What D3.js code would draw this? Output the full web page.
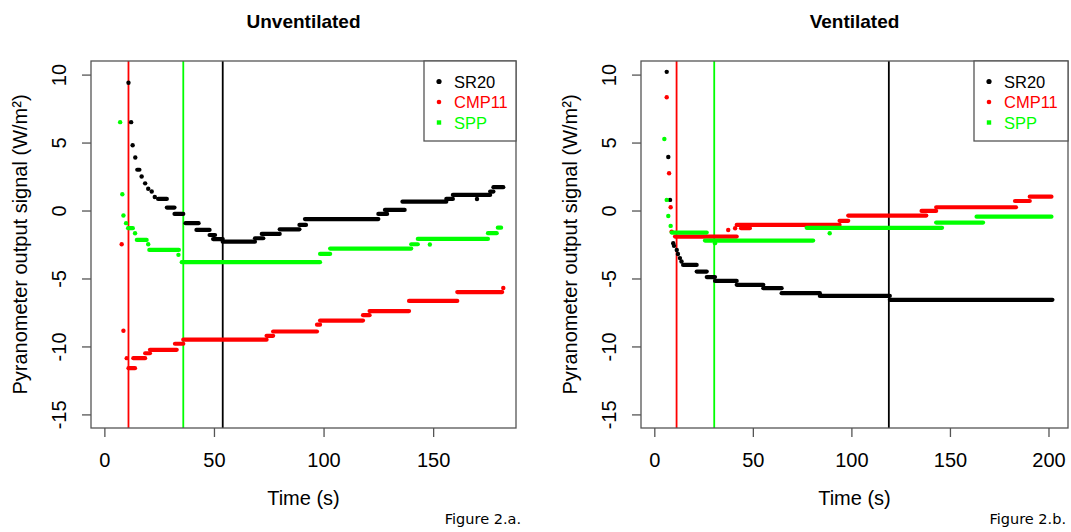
<!DOCTYPE html>
<html><head><meta charset="utf-8">
<script src="https://cdn.jsdelivr.net/npm/d3@7"></script>
<style>
html,body{margin:0;padding:0;background:#fff;}
svg{display:block;}
text{font-family:"Liberation Sans",Arial,Helvetica,sans-serif;}
</style>
</head><body>
<svg id="chart" width="1071" height="532"></svg>
<script>
// ---------- DATA (runs: [t_start, t_end, value]; single points have t_start == t_end) ----------
const seriesNames = ["SR20", "CMP11", "SPP"];
const seriesColors = ["#000000", "#FF0000", "#00FF00"];
const panelTitles = ["Unventilated", "Ventilated"];
const figureCaptions = ["Figure 2.a.", "Figure 2.b."];
const xTicksUnvent = [0, 50, 100, 150];
const xTicksVent = [0, 50, 100, 150, 200];
const yTicks = [-15, -10, -5, 0, 5, 10];

// Unventilated
const sr20Unvent = [[11,11,9.4],[12.2,12.2,6.5],[12.9,12.9,4.8],[14.1,14.1,3.9],[15,16,3.0],[17,17,2.5],[18.6,18.6,2.0],[20,20,1.6],[21.6,21.6,1.4],[23,23,1.0],[24.5,28.5,0.85],[28.5,32,0.22],[32,36,-0.25],[37,43,-0.93],[42,48,-1.43],[48,50.5,-1.8],[49.6,54,-2.1],[54,68.7,-2.29],[68.7,72.5,-2.04],[71.8,80,-1.72],[80,89,-1.38],[89,92,-1.06],[91.5,125,-0.63],[125,129,-0.25],[128,137,0.04],[136,156,0.65],[156,159,0.85],[159,176,1.15],[170,170,0.85],[176,177.5,1.39],[177.5,182,1.72]];
const cmp11Unvent = [[7.9,7.9,-2.48],[8.7,8.7,-8.85],[10.2,10.2,-10.86],[11,14,-11.6],[13.2,18.6,-10.86],[18.6,20.8,-10.5],[20.8,33,-10.25],[32.2,36,-9.8],[36,74,-9.5],[74,77,-9.22],[77,97,-8.9],[97,98.4,-8.4],[98.4,118,-8.1],[118,121,-7.7],[121,139,-7.4],[139,161,-6.65],[161,181.5,-6.0],[182,182,-5.7]];
const sppUnvent = [[7.2,7.2,6.5],[8.2,8.2,1.2],[8.7,8.7,-0.37],[9.9,9.9,-0.93],[10.8,13,-1.3],[14,14,-1.67],[14.8,19.3,-2.16],[20,20,-2.48],[20.5,34,-2.9],[33.8,33.8,-3.26],[35.3,98.4,-3.8],[98.4,103,-3.19],[103,140,-2.8],[140,143,-2.48],[143,175,-2.09],[148.5,148.5,-2.5],[175,179,-1.67],[179.5,181,-1.26]];
const vlinesUnvent = [11, 36, 54];   // CMP11 (red), SPP (green), SR20 (black)

// Ventilated
const sr20Vent = [[6.3,6.3,10.2],[7.1,7.1,3.94],[8,8,0.78],[9.6,9.6,-2.4],[10,10,-2.6],[11.4,11.4,-2.9],[12,12,-3.2],[13,13,-3.5],[13.8,13.8,-3.75],[14.6,21.5,-4.0],[21.5,26.6,-4.49],[26.6,30.8,-4.9],[30.8,41.8,-5.18],[41.8,55.3,-5.47],[55.3,64.6,-5.71],[64.6,84,-6.08],[84,119.5,-6.28],[119.5,202,-6.57]];
const cmp11Vent = [[6.3,6.3,8.33],[7.5,7.5,2.74],[8.3,8.3,0.24],[8.8,8.8,-1.55],[10.5,41.8,-1.92],[37.5,37.5,-1.43],[41,41,-1.3],[44,48.5,-1.3],[41.8,94,-1.06],[94,98.4,-0.76],[98.4,138,-0.37],[135.6,143,-0.03],[143,183.5,0.24],[183,190.5,0.7],[190.5,201.5,1.02]];
const sppVent = [[5.1,5.1,5.26],[6.3,6.3,0.78],[7.1,7.1,-0.4],[8.3,8.3,-1.13],[8.8,26.6,-1.62],[25.7,80.6,-2.21],[30.8,30.8,-2.4],[77.3,146,-1.27],[89,89,-1.67],[143,166.8,-0.89],[163.5,201.5,-0.45]];
const vlinesVent = [11.3, 30.4, 119];

// ---------- LAYOUT ----------
const svg = d3.select("#chart");
const fontMain = 20;
const boxStroke = "#555";
const fmt = d => String(d);   // plain hyphen-minus like the original

const panels = [
  {x0: 91, x1: 516, xDomain: [-6.1, 187.8], xTicks: xTicksUnvent,
   series: [sr20Unvent, cmp11Unvent, sppUnvent], vlines: vlinesUnvent,
   title: panelTitles[0], caption: figureCaptions[0], legendW: 92, capRight: 521},
  {x0: 641, x1: 1068, xDomain: [-6.75, 209.9], xTicks: xTicksVent,
   series: [sr20Vent, cmp11Vent, sppVent], vlines: vlinesVent,
   title: panelTitles[1], caption: figureCaptions[1], legendW: 94, capRight: 1066}
];
const yTop = 61, yBot = 428;

panels.forEach(p => {
  const x = d3.scaleLinear().domain(p.xDomain).range([p.x0, p.x1]);
  const y = d3.scaleLinear().domain([-16, 11]).range([yBot, yTop]);
  const g = svg.append("g");
  const cx = (p.x0 + p.x1) / 2;

  // vertical reference lines: red (CMP11), green (SPP), black (SR20)
  const vColors = [seriesColors[1], seriesColors[2], seriesColors[0]];
  g.selectAll(".vl").data(p.vlines).join("line")
    .attr("x1", d => x(d)).attr("x2", d => x(d))
    .attr("y1", yTop).attr("y2", yBot)
    .attr("stroke", (d, i) => vColors[i]).attr("stroke-width", 1.8);

  // data points (runs of identical readings)
  p.series.forEach((s, si) => {
    const col = seriesColors[si];
    const sg = g.append("g");
    sg.selectAll("line").data(s.filter(d => d[0] !== d[1])).join("line")
      .attr("x1", d => x(d[0])).attr("x2", d => x(d[1]))
      .attr("y1", d => y(d[2])).attr("y2", d => y(d[2]))
      .attr("stroke", col).attr("stroke-width", 4.2).attr("stroke-linecap", "round");
    sg.selectAll("circle").data(s.filter(d => d[0] === d[1])).join("circle")
      .attr("cx", d => x(d[0])).attr("cy", d => y(d[2])).attr("r", 2.2)
      .attr("fill", col);
  });

  // box
  g.append("rect").attr("x", p.x0).attr("y", yTop)
    .attr("width", p.x1 - p.x0).attr("height", yBot - yTop)
    .attr("fill", "none").attr("stroke", boxStroke).attr("stroke-width", 1.3);

  // x axis
  const xa = g.append("g").attr("transform", `translate(0,${yBot})`)
    .call(d3.axisBottom(x).tickValues(p.xTicks).tickSize(9).tickFormat(fmt));
  xa.select(".domain").remove();
  xa.selectAll(".tick line").attr("stroke", boxStroke).attr("stroke-width", 1.3);
  xa.selectAll(".tick text").attr("y", 39).attr("dy", 0)
    .attr("font-size", fontMain).attr("fill", "#000")
    .style("font-family", '"Liberation Sans",Arial,sans-serif');

  // y axis
  const ya = g.append("g").attr("transform", `translate(${p.x0},0)`)
    .call(d3.axisLeft(y).tickValues(yTicks).tickSize(9).tickFormat(fmt));
  ya.select(".domain").remove();
  ya.selectAll(".tick line").attr("stroke", boxStroke).attr("stroke-width", 1.3);
  ya.selectAll(".tick text").attr("x", null).attr("dy", 0)
    .attr("transform", "translate(-25,0) rotate(-90)")
    .attr("text-anchor", "middle")
    .attr("font-size", fontMain).attr("fill", "#000")
    .style("font-family", '"Liberation Sans",Arial,sans-serif');

  // labels
  g.append("text").attr("x", cx).attr("y", 28).attr("text-anchor", "middle")
    .attr("font-size", 19).attr("font-weight", "bold").text(p.title);
  g.append("text").attr("x", cx).attr("y", 505).attr("text-anchor", "middle")
    .attr("font-size", fontMain).text("Time (s)");
  g.append("text").attr("transform", `translate(${p.x0 - 64},${(yTop + yBot) / 2}) rotate(-90)`)
    .attr("text-anchor", "middle").attr("font-size", fontMain)
    .text("Pyranometer output signal (W/m²)");
  g.append("text").attr("x", p.capRight).attr("y", 524).attr("text-anchor", "end")
    .attr("font-size", 14.5).style("font-family", '"DejaVu Sans",sans-serif')
    .text(p.caption);

  // legend
  const lx = p.x1 - p.legendW;
  const lg = g.append("g");
  lg.append("rect").attr("x", lx).attr("y", yTop)
    .attr("width", p.legendW).attr("height", 80)
    .attr("fill", "#fff").attr("stroke", boxStroke).attr("stroke-width", 1.3);
  seriesNames.forEach((nm, i) => {
    const cy = 81.5 + i * 20.5;
    if (i === 2) {
      lg.append("rect").attr("x", lx + 15 - 2.2).attr("y", cy - 2.2)
        .attr("width", 4.4).attr("height", 4.4).attr("fill", seriesColors[i]);
    } else {
      lg.append("circle").attr("cx", lx + 15).attr("cy", cy)
        .attr("r", i === 0 ? 2.6 : 2.3).attr("fill", seriesColors[i]);
    }
    lg.append("text").attr("x", lx + 30).attr("y", cy + 6)
      .attr("font-size", 16.5).attr("fill", seriesColors[i]).text(nm);
  });
});
</script>
</body></html>
